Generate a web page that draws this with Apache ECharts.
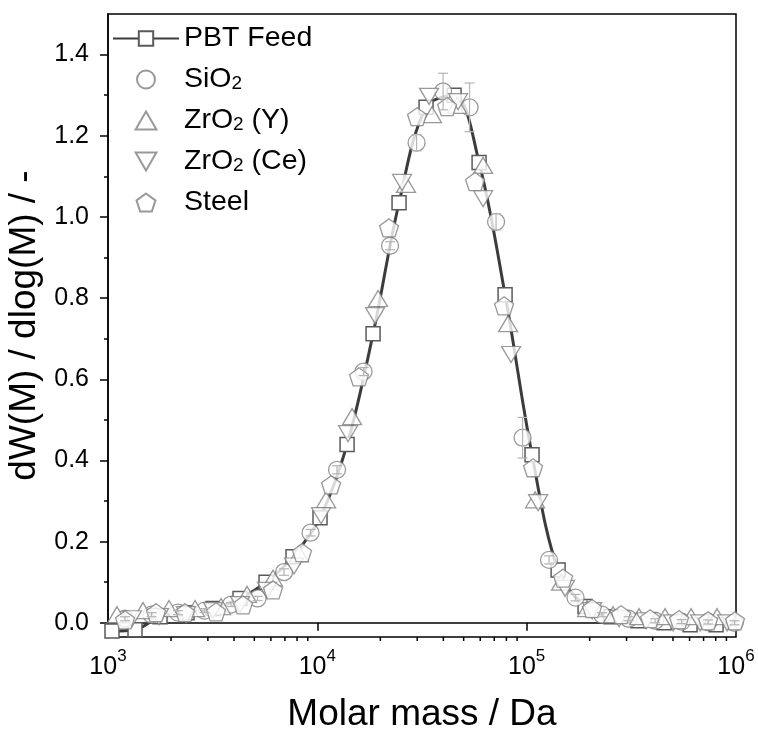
<!DOCTYPE html>
<html>
<head>
<meta charset="utf-8">
<script src="https://cdn.jsdelivr.net/npm/echarts@6/dist/echarts.min.js"></script>
<style>html,body{margin:0;padding:0;background:#fff}#c{width:758px;height:735px}</style>
</head>
<body>
<div id="c"></div>
<script>
// ---- data (molar mass in Da, dW/dlogM) ----
const pbtM = [1045,1346,1772,2385,3175,4272,5687,7655,10300,13870,18460,24570,33060,44990,59250,78870,106100,141300,190100,253000,340500,453400,603600,803300];
const pbtW = [-0.02,-0.017,0.015,0.025,0.035,0.06,0.10,0.163,0.259,0.439,0.712,1.035,1.27,1.30,1.134,0.808,0.414,0.13,0.04,0.015,0.005,0.0,-0.005,-0.005];

const sioM = [1206,1614,2160,2891,3870,5180,6934,9280,12420,16620,22250,29790,39870,53360,71420,95590,127900,171200,229200,306900,410800,549800,735800,984700];
const sioW = [0.01,0.02,0.025,0.03,0.045,0.06,0.125,0.222,0.377,0.619,0.929,1.183,1.309,1.27,0.988,0.456,0.155,0.062,0.02,0.01,0.005,0.003,0.002,0.0];
const sioErr = [0.005,0.005,0.005,0.005,0.005,0.005,0.008,0.008,0.01,0.01,0.01,0.02,0.045,0.06,0.02,0.05,0.01,0.008,0.005,0.005,0.005,0.005,0.005,0.005];

const zrYM = [1104,1470,1956,2605,3467,4615,6143,8178,11010,14650,19500,26530,35320,46500,61900,81520,109700,146000,194400,258700,344400,458500,610300,812200];
const zrYW = [0.02,0.03,0.035,0.035,0.04,0.07,0.11,0.17,0.303,0.508,0.799,1.08,1.252,1.275,1.127,0.737,0.303,0.10,0.035,0.02,0.015,0.015,0.015,0.015];

const zrCeM = [1302,1752,2358,3175,4272,5751,7740,10420,14020,18870,25390,34180,47010,61900,84240,113400,152600,205400,276400,372000,500700,673900,906800];
const zrCeW = [0.01,0.015,0.02,0.03,0.045,0.08,0.14,0.264,0.466,0.757,1.085,1.297,1.284,1.045,0.661,0.296,0.085,0.03,0.01,0.005,0.0,0.0,0.0];

const steelM = [1206,1696,2333,3281,4416,6143,8452,11630,15820,22010,29950,41670,56690,77990,107300,149300,205400,282600,388700,534800,735800,989000];
const steelW = [0.007,0.025,0.025,0.027,0.044,0.081,0.173,0.340,0.606,0.973,1.247,1.272,1.087,0.781,0.382,0.11,0.035,0.02,0.01,0.008,0.005,0.005];

const seriesNames = ['PBT Feed','SiO2','ZrO2 (Y)','ZrO2 (Ce)','Steel'];
const yMajorTicks = [0,0.2,0.4,0.6,0.8,1.0,1.2,1.4];
const yMinorTicks = [0.1,0.3,0.5,0.7,0.9,1.1,1.3];
const xMinorTicks = [2000,3000,4000,5000,6000,7000,8000,9000,20000,30000,40000,50000,60000,70000,80000,90000,200000,300000,400000,500000,600000,700000,800000,900000];

// ---- build ----
const pairs = (xs, ys) => xs.map((x, i) => [x, ys[i]]);
const FONT = 'Liberation Sans, Arial, sans-serif';
const MARK = '#808080';
const pentagon = 'path://M0,-1L0.951,-0.309L0.588,0.809L-0.588,0.809L-0.951,-0.309Z';
const upTri = 'path://M1,0L2,1.732L0,1.732Z';
const invTri = 'path://M0,0L2,0L1,1.732Z';

const legendRich = {
  n: {fontSize: 28.5, fontFamily: FONT, color: '#000', lineHeight: 28},
  sub: {fontSize: 19, fontFamily: FONT, color: '#000', lineHeight: 14, verticalAlign: 'bottom'}
};
const legendLabel = {
  'PBT Feed': '{n|PBT Feed}',
  'SiO2': '{n|SiO}{sub|2}',
  'ZrO2 (Y)': '{n|ZrO}{sub|2}{n| (Y)}',
  'ZrO2 (Ce)': '{n|ZrO}{sub|2}{n| (Ce)}',
  'Steel': '{n|Steel}'
};

function scatterSeries(name, data, symbol, size) {
  return {
    name, type: 'scatter', data, symbol, symbolSize: size,
    itemStyle: {color: '#fff', borderColor: MARK, borderWidth: 1.3},
    emphasis: {disabled: true}, clip: false
  };
}

const chart = echarts.init(document.getElementById('c'), null, {renderer: 'canvas'});
chart.setOption({
  animation: false,
  backgroundColor: '#fff',
  grid: {left: 108, right: 22, top: 14, bottom: 98, outerBoundsMode: 'none', containLabel: false,
         show: true, borderColor: '#000', borderWidth: 1.5, backgroundColor: 'transparent'},
  legend: {
    orient: 'vertical', left: 112, top: 24, padding: 0,
    itemWidth: 66, itemHeight: 18, itemGap: 12,
    selectedMode: false, symbolKeepAspect: true,
    data: seriesNames,
    formatter: name => legendLabel[name],
    textStyle: {fontSize: 28.5, fontFamily: FONT, color: '#000', height: 28, lineHeight: 28, rich: legendRich}
  },
  xAxis: [{
    type: 'log', logBase: 10, min: 1000, max: 1000000,
    name: 'Molar mass / Da', nameLocation: 'middle', nameGap: 59,
    nameTextStyle: {fontSize: 37, fontFamily: FONT, color: '#000'},
    axisLine: {lineStyle: {color: '#000', width: 1.5}},
    axisTick: {show: true, inside: false, length: 8, lineStyle: {color: '#000', width: 1.5}},
    splitLine: {show: false},
    axisLabel: {
      margin: 11,
      formatter: v => '{b|10}{s|' + Math.round(Math.log10(v)) + '}',
      rich: {
        b: {fontSize: 25, fontFamily: FONT, color: '#000', lineHeight: 32, verticalAlign: 'bottom'},
        s: {fontSize: 17, fontFamily: FONT, color: '#000', lineHeight: 17, verticalAlign: 'top'}
      }
    }
  }],
  yAxis: [{
    type: 'value', min: -0.035, max: 1.5,
    name: 'dW(M) / dlog(M) / -', nameLocation: 'middle', nameGap: 56,
    nameTextStyle: {fontSize: 37, fontFamily: FONT, color: '#000'},
    axisLine: {show: true, lineStyle: {color: '#000', width: 1.5}},
    axisTick: {show: true, inside: false, length: 8, customValues: yMajorTicks, lineStyle: {color: '#000', width: 1.5}},
    axisLabel: {customValues: yMajorTicks, formatter: v => v.toFixed(1), fontSize: 25, fontFamily: FONT, color: '#000', margin: 19},
    splitLine: {show: false}
  }, {
    type: 'value', min: -0.035, max: 1.5, position: 'left',
    axisLine: {show: false},
    axisTick: {show: true, inside: false, length: 4, customValues: yMinorTicks, lineStyle: {color: '#000', width: 1.5}},
    axisLabel: {show: false},
    splitLine: {show: false}
  }],
  series: [
    {
      name: 'PBT Feed', type: 'line', data: pairs(pbtM, pbtW),
      smooth: 0.35, symbol: 'rect', symbolSize: 14,
      lineStyle: {color: '#3c3c3c', width: 3},
      itemStyle: {color: '#fff', borderColor: '#5a5a5a', borderWidth: 1.5},
      emphasis: {disabled: true}, z: 2
    },
    {
      name: 'sioErrBars', type: 'custom', z: 3, clip: false, silent: true,
      data: sioM.map((m, i) => [m, sioW[i] - sioErr[i], sioW[i] + sioErr[i]]),
      renderItem: (params, api) => {
        const lo = api.coord([api.value(0), api.value(1)]);
        const hi = api.coord([api.value(0), api.value(2)]);
        const st = {stroke: '#b4b4b4', lineWidth: 1.2};
        return {type: 'group', children: [
          {type: 'line', shape: {x1: lo[0], y1: lo[1], x2: hi[0], y2: hi[1]}, style: st},
          {type: 'line', shape: {x1: hi[0] - 5, y1: hi[1], x2: hi[0] + 5, y2: hi[1]}, style: st},
          {type: 'line', shape: {x1: lo[0] - 5, y1: lo[1], x2: lo[0] + 5, y2: lo[1]}, style: st}
        ]};
      }
    },
    scatterSeries('SiO2', pairs(sioM, sioW), 'circle', 17),
    scatterSeries('ZrO2 (Y)', pairs(zrYM, zrYW), upTri, [19, 16]),
    scatterSeries('ZrO2 (Ce)', pairs(zrCeM, zrCeW), invTri, [19, 16]),
    scatterSeries('Steel', pairs(steelM, steelW), pentagon, [19, 18]),
    {
      name: 'xminor', type: 'custom', data: xMinorTicks.map(v => [v, -0.035]),
      clip: false, silent: true, z: 10,
      renderItem: (params, api) => {
        const p = api.coord([api.value(0), -0.035]);
        return {type: 'line', shape: {x1: p[0], y1: p[1], x2: p[0], y2: p[1] + 4}, style: {stroke: '#000', lineWidth: 1.5}};
      }
    }
  ]
});
</script>
</body>
</html>
